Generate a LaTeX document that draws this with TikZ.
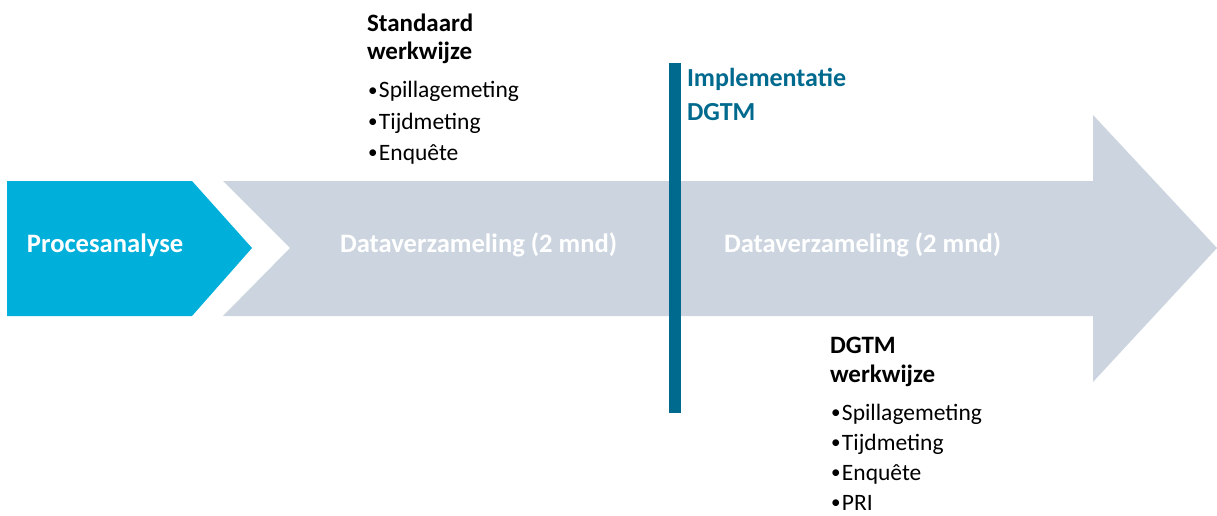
\documentclass[tikz,border=0pt]{standalone}
\usepackage{fontspec}
\setmainfont{Carlito}
\definecolor{procblue}{HTML}{00B0DB}
\definecolor{arrowgrey}{HTML}{CCD5DF}
\definecolor{bardark}{HTML}{006A8E}
\newcommand{\mybul}{{\fontsize{19}{0}\selectfont\raisebox{1.5pt}{•}}\hspace{1.5pt}}
\tikzset{
  lbl/.style={anchor=base west, inner sep=0pt, outer sep=0pt},
  head/.style={lbl, font=\fontsize{25}{28}\selectfont\bfseries, text=black},
  item/.style={lbl, font=\fontsize{23.5}{28}\selectfont, text=black},
  phase/.style={lbl, font=\fontsize{26.6}{30}\selectfont\bfseries, text=white},
  impl/.style={lbl, font=\fontsize{26}{30}\selectfont\bfseries, text=bardark},
}
\begin{document}
\begin{tikzpicture}[x=1pt,y=-1pt]
\useasboundingbox (0,0) rectangle (1217,516);
% blue chevron
\fill[procblue] (7,181) -- (192,181) -- (252,248) -- (192,316) -- (7,316) -- cycle;
% grey arrow
\fill[arrowgrey] (223,181) -- (1093,181) -- (1093,115) -- (1217,248) -- (1093,382)
  -- (1093,316) -- (223,316) -- (290,248) -- cycle;
% implementation bar
\fill[bardark] (669,63) rectangle (681,413);
\node[phase] (proc) at (27,252) {Procesanalyse};
\node[phase] (data1) at (340,252) {Dataverzameling (2 mnd)};
\node[phase] (data2) at (724,252) {Dataverzameling (2 mnd)};
\node[impl] (impl1) at (687,87) {Implementatie};
\node[impl] (impl2) at (687,121) {DGTM};
% standaard werkwijze
\node[head] (std1) at (367,32) {Standaard};
\node[head] (std2) at (367,60) {werkwijze};
\node[item] (stda) at (368,98) {\mybul Spillagemeting};
\node[item] (stdb) at (368,129) {\mybul Tijdmeting};
\node[item] (stdc) at (368,160) {\mybul Enquête};
% DGTM werkwijze
\node[head] (dg1) at (830,353) {DGTM};
\node[head] (dg2) at (830,382) {werkwijze};
\node[item] (dga) at (831,420) {\mybul Spillagemeting};
\node[item] (dgb) at (831,450) {\mybul Tijdmeting};
\node[item] (dgc) at (831,480) {\mybul Enquête};
\node[item] (dgd) at (831,510) {\mybul PRI};
\end{tikzpicture}
\end{document}
